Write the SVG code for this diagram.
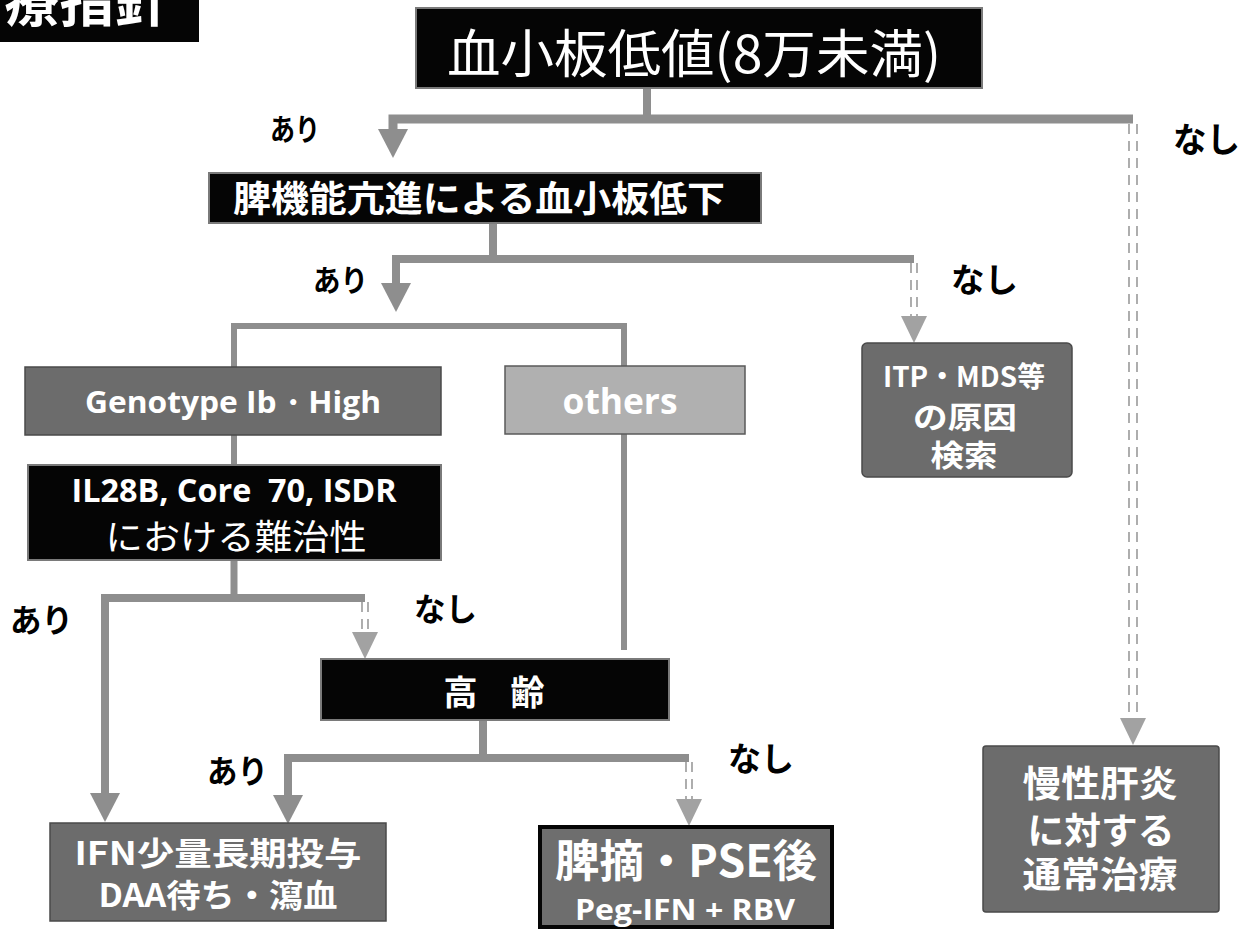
<svg xmlns="http://www.w3.org/2000/svg" xmlns:xlink="http://www.w3.org/1999/xlink" width="1260" height="930" viewBox="0 0 1260 930">
<style>
.bk{fill:#050505;stroke:#7a7a7a;stroke-width:2}
.gr{fill:#6c6c6c;stroke:#4a4a4a;stroke-width:1.5}
.lg{fill:#b0b0b0;stroke:#5a5a5a;stroke-width:1.5}
.jp{font-family:"Noto Sans CJK JP","Noto Sans",sans-serif;fill:#fff;text-anchor:middle;dominant-baseline:central}
.en{font-family:"Open Sans","Liberation Sans",sans-serif;fill:#fff;text-anchor:middle;font-weight:700}
.lab{font-family:"Noto Sans CJK JP",sans-serif;font-weight:700;fill:#000;dominant-baseline:central}
.ln{fill:none;stroke:#8e8e8e;stroke-linejoin:miter;stroke-linecap:butt}
.ds{fill:none;stroke:#9a9a9a;stroke-width:1.6;stroke-dasharray:10 7}
.sh{fill:#8e8e8e}
.dh{fill:#a2a2a2}
</style>
<defs>
<path id="shead" d="M-15,-29 L15,-29 L0,0 Z"/>
<path id="dhead" d="M-13,-27 L13,-27 L0,0 Z"/>
</defs>

<g id="title">
<rect x="0" y="0" width="199" height="42" fill="#050505"/>
<text x="87" y="21" class="jp" style="dominant-baseline:auto;font-size:56px;font-weight:700" textLength="165" lengthAdjust="spacingAndGlyphs">療指針</text>
</g>

<g id="connectors">
<path class="ln" stroke-width="8" d="M647,88 V119"/>
<path class="ln" stroke-width="9" d="M1133,119 H393 V130"/>
<use xlink:href="#shead" href="#shead" class="sh" x="393" y="158"/>
<path class="ds" d="M1129,124 V717 M1137,124 V717"/>
<use xlink:href="#dhead" href="#dhead" class="dh" x="1133" y="745"/>

<path class="ln" stroke-width="8" d="M493,223 V259"/>
<path class="ln" stroke-width="8" d="M914,259 H396 V284"/>
<use xlink:href="#shead" href="#shead" class="sh" x="396" y="312"/>
<path class="ds" d="M911,263 V316 M917,263 V316"/>
<use xlink:href="#dhead" href="#dhead" class="dh" x="914" y="343"/>

<path class="ln" stroke-width="6" d="M234,367 V326 H624 V367"/>
<path class="ln" stroke-width="6" d="M234,435 V465"/>
<path class="ln" stroke-width="6" d="M624,434 V650"/>
<path class="ln" stroke-width="7" d="M234,560 V598"/>
<path class="ln" stroke-width="8" d="M365,598 H105 V794"/>
<use xlink:href="#shead" href="#shead" class="sh" x="105" y="822"/>
<path class="ds" d="M362,602 V632 M368,602 V632"/>
<use xlink:href="#dhead" href="#dhead" class="dh" x="365" y="659"/>

<path class="ln" stroke-width="8" d="M483,720 V758"/>
<path class="ln" stroke-width="8" d="M689,758 H288 V796"/>
<use xlink:href="#shead" href="#shead" class="sh" x="288" y="824"/>
<path class="ds" d="M686,762 V799 M692,762 V799"/>
<use xlink:href="#dhead" href="#dhead" class="dh" x="689" y="826"/>

<text class="lab" x="270" y="127" font-size="30" textLength="50" lengthAdjust="spacingAndGlyphs">あり</text>
<text class="lab" x="1173" y="137" font-size="34" textLength="67" lengthAdjust="spacingAndGlyphs">なし</text>
<text class="lab" x="313" y="278" font-size="30" textLength="55" lengthAdjust="spacingAndGlyphs">あり</text>
<text class="lab" x="951" y="278" font-size="33" textLength="67" lengthAdjust="spacingAndGlyphs">なし</text>
<text class="lab" x="10" y="618" font-size="32" textLength="63" lengthAdjust="spacingAndGlyphs">あり</text>
<text class="lab" x="414" y="607" font-size="32" textLength="63" lengthAdjust="spacingAndGlyphs">なし</text>
<text class="lab" x="207" y="769" font-size="32" textLength="61" lengthAdjust="spacingAndGlyphs">あり</text>
<text class="lab" x="728" y="757" font-size="33" textLength="66" lengthAdjust="spacingAndGlyphs">なし</text>
</g>

<g id="n-platelet">
<rect class="bk" x="416" y="8" width="566" height="80"/>
<text class="jp" x="694" y="50" font-size="52" textLength="494" lengthAdjust="spacingAndGlyphs">血小板低値(8万未満)</text>
</g>

<g id="n-spleen">
<rect class="bk" x="209" y="173" width="552" height="50"/>
<text class="jp" x="479" y="196" font-size="36" font-weight="700" textLength="492" lengthAdjust="spacingAndGlyphs">脾機能亢進による血小板低下</text>
</g>

<g id="n-genotype">
<rect class="gr" x="25" y="367" width="416" height="68"/>
<text class="en" x="233" y="413" font-size="31" textLength="296" lengthAdjust="spacingAndGlyphs">Genotype Ib・High</text>
</g>

<g id="n-others">
<rect class="lg" x="505" y="366" width="240" height="68"/>
<text class="en" x="620" y="414" font-size="36" textLength="115" lengthAdjust="spacingAndGlyphs">others</text>
</g>

<g id="n-il28b">
<rect class="bk" x="28" y="465" width="413" height="95"/>
<text class="en" x="234" y="502" font-size="32" textLength="325" lengthAdjust="spacingAndGlyphs" xml:space="preserve">IL28B, Core  70, ISDR</text>
<text class="jp" x="236" y="534" font-size="35" textLength="261" lengthAdjust="spacingAndGlyphs">における難治性</text>
</g>

<g id="n-itp">
<rect class="gr" x="862" y="343" width="210" height="134" rx="5"/>
<text class="jp" x="964" y="375" font-size="28" font-weight="700" textLength="162" lengthAdjust="spacingAndGlyphs">ITP・MDS等</text>
<text class="jp" x="965" y="415" font-size="30" font-weight="700" textLength="104" lengthAdjust="spacingAndGlyphs">の原因</text>
<text class="jp" x="964" y="453" font-size="30" font-weight="700" textLength="67" lengthAdjust="spacingAndGlyphs">検索</text>
</g>

<g id="n-elderly">
<rect class="bk" x="321" y="659" width="348" height="61"/>
<text class="jp" x="494" y="690" font-size="34" font-weight="700" textLength="101" lengthAdjust="spacing" xml:space="preserve">高 齢</text>
</g>

<g id="n-ifn">
<rect class="gr" x="50" y="823" width="336" height="98"/>
<text class="jp" x="218" y="851" font-size="32" font-weight="700" textLength="287" lengthAdjust="spacingAndGlyphs">IFN少量長期投与</text>
<text class="jp" x="218" y="893" font-size="32" font-weight="700" textLength="239" lengthAdjust="spacingAndGlyphs">DAA待ち・瀉血</text>
</g>

<g id="n-splenectomy">
<rect x="540" y="827" width="292" height="100" fill="#6e6e6e" stroke="#050505" stroke-width="4"/>
<text class="jp" x="686" y="858" font-size="44" font-weight="700" textLength="262" lengthAdjust="spacingAndGlyphs">脾摘・PSE後</text>
<text class="en" x="685" y="920" font-size="29" textLength="220" lengthAdjust="spacingAndGlyphs">Peg-IFN + RBV</text>
</g>

<g id="n-chronic">
<rect class="gr" x="983" y="746" width="236" height="166" rx="3"/>
<text class="jp" x="1100" y="781" font-size="36" font-weight="700" textLength="155" lengthAdjust="spacingAndGlyphs">慢性肝炎</text>
<text class="jp" x="1101" y="828" font-size="36" font-weight="700" textLength="147" lengthAdjust="spacingAndGlyphs">に対する</text>
<text class="jp" x="1100" y="872" font-size="36" font-weight="700" textLength="155" lengthAdjust="spacingAndGlyphs">通常治療</text>
</g>
</svg>
